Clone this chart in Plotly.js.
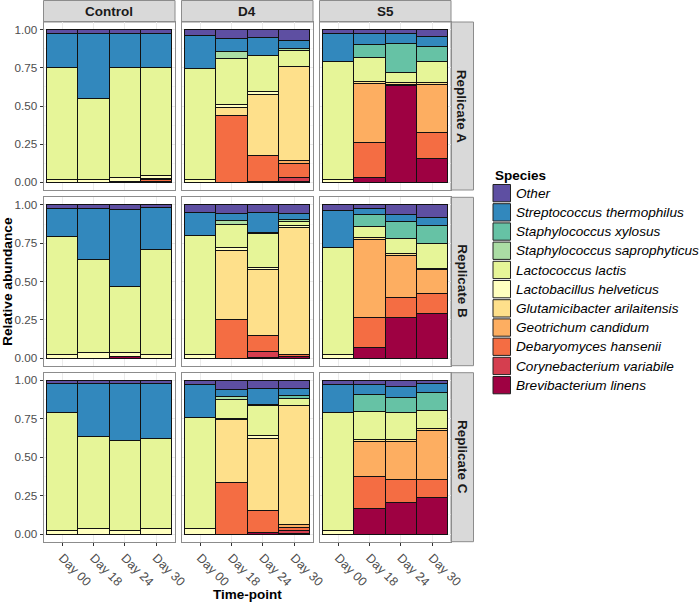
<!DOCTYPE html>
<html>
<head>
<meta charset="utf-8">
<script src="https://cdn.plot.ly/plotly-3.0.1.min.js"></script>
<style>html,body{margin:0;padding:0;background:#fff}#chart{width:700px;height:604px}</style>
</head>
<body>
<div id="chart"></div>
<script>
// ---- Data ----
const days = ["Day 00", "Day 18", "Day 24", "Day 30"];
const treatments = ["Control", "D4", "S5"];
const replicates = ["Replicate A", "Replicate B", "Replicate C"];
// stacking order, bottom first
const species = [
  "Brevibacterium linens", "Corynebacterium variabile", "Debaryomyces hansenii",
  "Geotrichum candidum", "Glutamicibacter arilaitensis", "Lactobacillus helveticus",
  "Lactococcus lactis", "Staphylococcus saprophyticus", "Staphylococcus xylosus",
  "Streptococcus thermophilus", "Other"
];
const colors = ["#9E0142", "#D53E4F", "#F46D43", "#FDAE61", "#FEE08B", "#FFFFBF",
  "#E6F598", "#ABDDA4", "#66C2A5", "#3288BD", "#5E4FA2"];

// Values per species, 36 per array: for each replicate (A,B,C), for each treatment (Control,D4,S5), Day 00/18/24/30
const brevibacterium = [
  0,0,0.006,0.004,  0,0,0.008,0.007,  0,0.033,0.635,0.157,
  0,0,0.008,0,      0,0,0.004,0.01,   0,0.07,0.265,0.293,
  0,0,0,0,          0,0,0.011,0.005,  0,0.163,0.207,0.239];
const corynebacterium = [
  0,0,0,0,  0,0,0,0.026,  0,0,0,0,
  0,0,0,0,  0,0,0.042,0,  0,0,0,0,
  0,0,0,0,  0,0,0,0.015,  0,0,0,0];
const debaryomyces = [
  0,0,0,0.012,  0,0.441,0.166,0.09,  0,0.228,0,0.169,
  0,0,0,0,      0,0.25,0.102,0.016,  0,0.195,0.133,0.131,
  0,0,0,0,      0,0.335,0.141,0.023, 0,0.211,0.15,0.118];
const geotrichum = [
  0,0,0,0,  0,0,0,0.02,     0,0.387,0.008,0.317,
  0,0,0,0,  0,0,0,0,        0,0.511,0.274,0.152,
  0,0,0,0,  0,0,0,0.018,    0,0.228,0.245,0.319];
const glutamicibacter = [
  0,0,0,0.01,  0,0.052,0.402,0.614,  0,0.015,0.014,0.014,
  0,0,0,0,     0,0.454,0.428,0.826,  0,0.011,0.013,0.009,
  0,0,0,0,     0,0.413,0.47,0.778,   0,0.015,0.011,0.011];
const lactobacillus = [
  0.02,0.022,0.028,0.016,   0.02,0.016,0.021,0,    0.02,0,0,0,
  0.02,0.033,0.031,0.026,   0.02,0.018,0.015,0.011, 0.022,0,0,0,
  0.022,0.039,0.022,0.035,  0.035,0.006,0.017,0,   0.026,0,0,0];
const lactococcus = [
  0.734,0.526,0.72,0.71,   0.726,0.299,0.236,0.108,  0.773,0.157,0.06,0.136,
  0.771,0.61,0.426,0.683,  0.782,0.152,0.22,0.026,   0.70,0.072,0.098,0.161,
  0.771,0.596,0.585,0.589, 0.724,0.124,0.196,0.046,  0.767,0.181,0.178,0.117];
const saprophyticus = [
  0,0,0,0,  0,0.046,0,0.009,      0,0,0,0,
  0,0,0,0,  0,0.024,0.011,0.013,  0,0,0,0,
  0,0,0,0,  0,0.018,0.011,0,      0,0,0,0];
const xylosus = [
  0,0,0,0,  0,0,0,0,      0,0.08,0.194,0.098,
  0,0,0,0,  0,0,0,0,      0,0.076,0.108,0.117,
  0,0,0,0,  0,0,0,0.019,  0,0.113,0.098,0.118];
const streptococcus = [
  0.22,0.426,0.224,0.22,   0.215,0.085,0.117,0.056,  0.179,0.072,0.061,0.061,
  0.187,0.333,0.507,0.276, 0.148,0.045,0.128,0.039,  0.245,0.041,0.048,0.054,
  0.187,0.345,0.373,0.356, 0.215,0.047,0.104,0.042,  0.183,0.061,0.068,0.056];
const other = [
  0.026,0.026,0.022,0.028,  0.039,0.061,0.05,0.07,   0.028,0.028,0.028,0.048,
  0.022,0.024,0.028,0.015,  0.05,0.057,0.05,0.059,   0.033,0.024,0.061,0.083,
  0.02,0.02,0.02,0.02,      0.026,0.057,0.05,0.054,  0.024,0.028,0.043,0.022];

const speciesValues = [brevibacterium, corynebacterium, debaryomyces, geotrichum,
  glutamicibacter, lactobacillus, lactococcus, saprophyticus, xylosus, streptococcus, other];

// ---- Layout geometry (pixels) ----
const W = 700, H = 604;
const colX = [[43.5, 175], [181.5, 313], [319.5, 451]];
const rowY = [[22, 190], [197.3, 365.7], [372.7, 541.7]];
const FONT = "Liberation Sans, Arial, sans-serif";
const px = v => v / W;
const py = v => 1 - v / H;

const traces = [];
const layout = {
  width: W, height: H,
  margin: {l: 0, r: 0, t: 0, b: 0},
  paper_bgcolor: "#fff", plot_bgcolor: "#fff",
  barmode: "stack", bargap: 0,
  showlegend: false,
  font: {family: FONT, color: "#1a1a1a"},
  shapes: [], annotations: []
};

for (let r = 0; r < 3; r++) {
  for (let c = 0; c < 3; c++) {
    const p = r * 3 + c;
    const n = p + 1;
    const xa = "x" + (n === 1 ? "" : n), ya = "y" + (n === 1 ? "" : n);
    const bottom = r === 2, left = c === 0;
    layout["xaxis" + (n === 1 ? "" : n)] = {
      domain: [px(colX[c][0]), px(colX[c][1])],
      anchor: ya, range: [-0.6, 3.6], fixedrange: true,
      tickmode: "array", tickvals: [0, 1, 2, 3], ticktext: days,
      showticklabels: bottom, ticks: bottom ? "outside" : "", ticklen: 3, tickcolor: "#333", tickwidth: 1,
      tickangle: 45, tickfont: {family: FONT, size: 12.5, color: "#4D4D4D"},
      showgrid: true, gridcolor: "#EBEBEB", gridwidth: 1,
      showline: true, mirror: true, linecolor: "#8C8C8C", linewidth: 1,
      zeroline: false, automargin: false
    };
    layout["yaxis" + (n === 1 ? "" : n)] = {
      domain: [py(rowY[r][1]), py(rowY[r][0])],
      anchor: xa, range: [-0.05, 1.05], fixedrange: true,
      tickmode: "array", tickvals: [0, 0.25, 0.5, 0.75, 1],
      ticktext: ["0.00", "0.25", "0.50", "0.75", "1.00"],
      showticklabels: left, ticks: left ? "outside" : "", ticklen: 3, tickcolor: "#333", tickwidth: 1,
      tickfont: {family: FONT, size: 11.7, color: "#4D4D4D"},
      showgrid: true, gridcolor: "#EBEBEB", gridwidth: 1,
      minor: {showgrid: true, tickvals: [0.125, 0.375, 0.625, 0.875], gridcolor: "#F2F2F2", gridwidth: 0.5},
      showline: true, mirror: true, linecolor: "#8C8C8C", linewidth: 1,
      zeroline: false, automargin: false
    };
    for (let s = 0; s < species.length; s++) {
      const vals = speciesValues[s].slice(p * 4, p * 4 + 4).map(v => v > 0 ? v : null);
      traces.push({
        type: "bar", x: [0, 1, 2, 3], y: vals, width: 1,
        xaxis: xa, yaxis: ya, name: species[s],
        marker: {color: colors[s], line: {color: "#111", width: 1}},
        hoverinfo: "skip", showlegend: false
      });
    }
  }
}

// strips
treatments.forEach((t, c) => {
  layout.shapes.push({type: "rect", xref: "paper", yref: "paper",
    x0: px(colX[c][0]), x1: px(colX[c][1]), y0: py(22), y1: py(0.5),
    fillcolor: "#D9D9D9", line: {color: "#8C8C8C", width: 1}, layer: "below"});
  layout.annotations.push({xref: "paper", yref: "paper", x: px((colX[c][0] + colX[c][1]) / 2), y: py(11.5),
    text: "<b>" + t + "</b>", showarrow: false, xanchor: "center", yanchor: "middle",
    font: {family: FONT, size: 13.5, color: "#1A1A1A"}});
});
replicates.forEach((t, r) => {
  layout.shapes.push({type: "rect", xref: "paper", yref: "paper",
    x0: px(451), x1: px(473.5), y0: py(rowY[r][1]), y1: py(rowY[r][0]),
    fillcolor: "#D9D9D9", line: {color: "#8C8C8C", width: 1}, layer: "below"});
  layout.annotations.push({xref: "paper", yref: "paper", x: px(462.3), y: py((rowY[r][0] + rowY[r][1]) / 2),
    text: "<b>" + t + "</b>", showarrow: false, textangle: 90, xanchor: "center", yanchor: "middle",
    font: {family: FONT, size: 13.5, color: "#1A1A1A"}});
});

// axis titles
layout.annotations.push({xref: "paper", yref: "paper", x: px(7.5), y: py(281.5),
  text: "<b>Relative abundance</b>", showarrow: false, textangle: -90, xanchor: "center", yanchor: "middle",
  font: {family: FONT, size: 13.7, color: "#000"}});
layout.annotations.push({xref: "paper", yref: "paper", x: px(247), y: py(594),
  text: "<b>Time-point</b>", showarrow: false, xanchor: "center", yanchor: "middle",
  font: {family: FONT, size: 13.5, color: "#000"}});

// legend (top = last species)
layout.annotations.push({xref: "paper", yref: "paper", x: px(492.5), y: py(175),
  text: "<b>Species</b>", showarrow: false, xanchor: "left", yanchor: "middle",
  font: {family: FONT, size: 13.5, color: "#000"}});
for (let i = 0; i < species.length; i++) {
  const s = species.length - 1 - i;
  const top = 184.5 + i * 19.2;
  layout.shapes.push({type: "rect", xref: "paper", yref: "paper",
    x0: px(493), x1: px(510.5), y0: py(top + 17.3), y1: py(top),
    fillcolor: colors[s], line: {color: "#222", width: 1}});
  layout.annotations.push({xref: "paper", yref: "paper", x: px(513.5), y: py(top + 8.8),
    text: "<i>" + species[s] + "</i>", showarrow: false, xanchor: "left", yanchor: "middle",
    font: {family: FONT, size: 13.6, color: "#000"}});
}

Plotly.newPlot("chart", traces, layout, {staticPlot: true, displayModeBar: false});
</script>
</body>
</html>
